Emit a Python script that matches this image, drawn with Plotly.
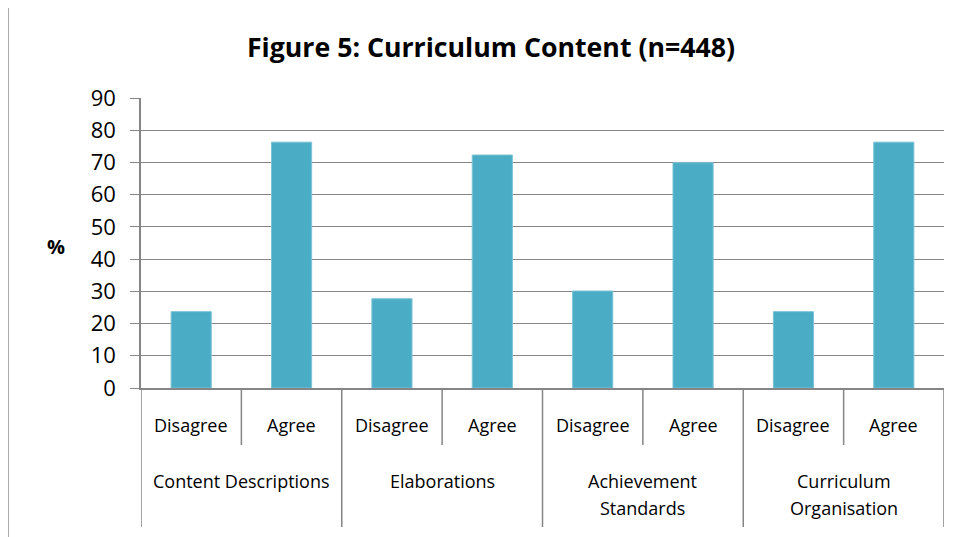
import plotly.graph_objects as go

groups = ["Content Descriptions", "Elaborations", "Achievement<br>Standards", "Curriculum<br>Organisation"]
responses = ["Disagree", "Agree"]
values = [23.7, 76.3, 27.7, 72.3, 30.1, 69.9, 23.7, 76.3]
y_ticks = [0, 10, 20, 30, 40, 50, 60, 70, 80, 90]

OFF = 8  # page body margin
W, H = 963 - OFF, 537 - OFF
# plot area in screenshot pixels: x 141..944, y 98..388
L, R, T, B = 141 - OFF, 963 - 944, 98 - OFF, 537 - 388
pw, ph = W - L - R, H - T - B

def px_x(px):
    return (px - OFF - L) / pw

def px_y(py):
    return (388 - py) / ph

n = len(groups) * len(responses)
xs = list(range(n))
sub_labels = [responses[i % 2] for i in xs]

font = "'Open Sans', sans-serif"
grid = "#858585"

fig = go.Figure(go.Bar(x=xs, y=values, marker=dict(color="#4BACC6", line=dict(color="#7CC3D6", width=1)),
                       width=0.4, hoverinfo="y"))

shapes = []
# outer chart border
shapes.append(dict(type="rect", xref="paper", yref="paper", x0=px_x(8), x1=px_x(990),
                   y0=px_y(560), y1=px_y(5), line=dict(color="#8f8f8f", width=1.5), layer="below"))
# category dividers
for i in range(n + 1):
    xv = i - 0.5
    bottom = 527 if i % 2 == 0 else 445
    shapes.append(dict(type="line", xref="x", yref="paper", x0=xv, x1=xv, y0=0, y1=px_y(bottom),
                       line=dict(color=grid, width=1.5)))

annotations = []
for i, lab in enumerate(sub_labels):
    annotations.append(dict(x=i, y=px_y(425), xref="x", yref="paper", text=lab, showarrow=False,
                            font=dict(family=font, size=18, color="black"), yanchor="middle"))
for g, lab in enumerate(groups):
    for k, line in enumerate(lab.split("<br>")):
        annotations.append(dict(x=2 * g + 0.5, y=px_y(481 + 27 * k), xref="x", yref="paper", text=line,
                                showarrow=False, font=dict(family=font, size=18, color="black"),
                                yanchor="middle"))
annotations.append(dict(x=px_x(56), y=px_y(246), xref="paper", yref="paper", text="<b>%</b>", showarrow=False,
                        font=dict(family=font, size=20, color="black"), yanchor="middle", xanchor="center"))

fig.update_layout(
    width=W, height=H,
    margin=dict(l=L, r=R, t=T, b=B),
    paper_bgcolor="white", plot_bgcolor="white",
    title=dict(text="<b>Figure 5: Curriculum Content (n=448)</b>", x=(491 - OFF) / W, y=1 - (48 - OFF) / H,
               xanchor="center", yanchor="middle", font=dict(family=font, size=26.7, color="black")),
    xaxis=dict(range=[-0.5, n - 0.5], showticklabels=False, showgrid=False, zeroline=False,
               showline=True, linecolor=grid, linewidth=1.5, ticks=""),
    yaxis=dict(range=[0, 90], tickvals=y_ticks, showgrid=True, gridcolor=grid, gridwidth=1.4,
               zeroline=False, showline=True, linecolor=grid, linewidth=1.5,
               ticks="outside", ticklen=9, tickcolor=grid, tickwidth=1.4,
               tickfont=dict(family=font, size=22, color="black"), ticklabelstandoff=10),
    shapes=shapes, annotations=annotations, showlegend=False,
)

fig.write_html("out.html")
